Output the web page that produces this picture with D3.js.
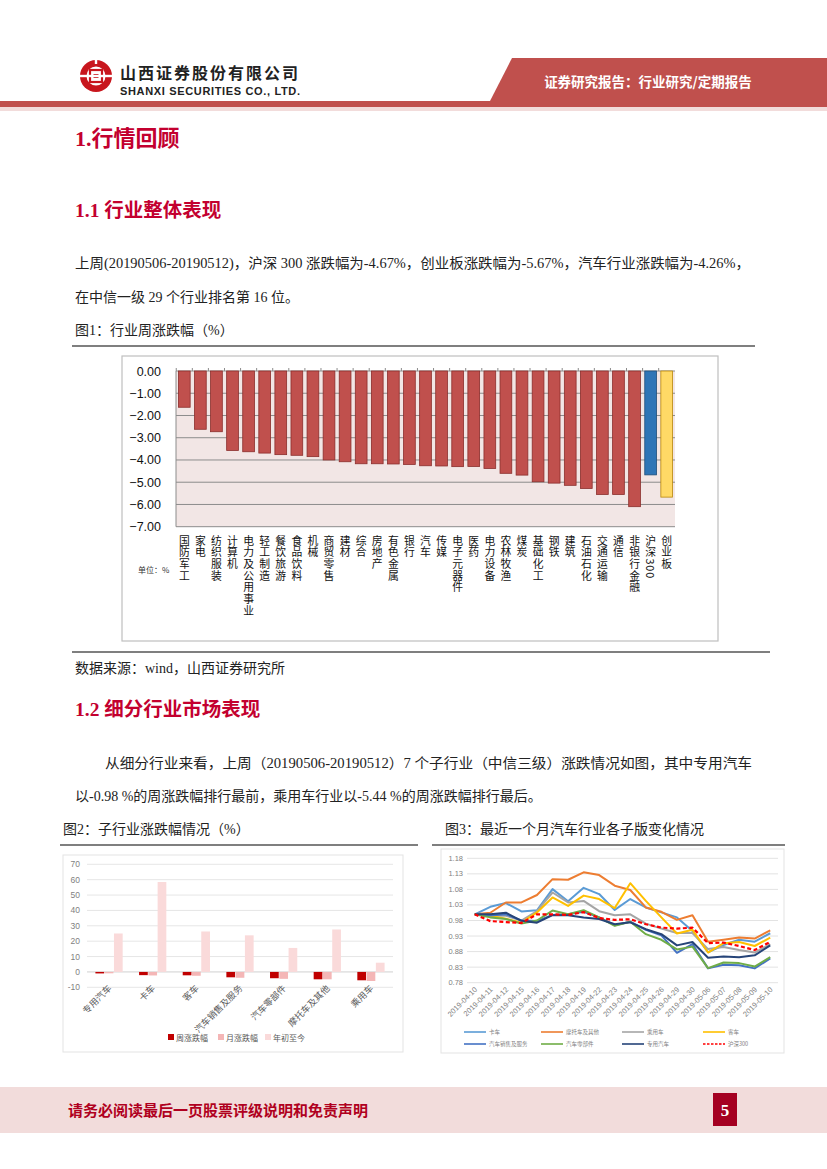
<!DOCTYPE html>
<html>
<head>
<meta charset="utf-8">
<script src="https://cdn.jsdelivr.net/npm/d3@7"></script>
<style>
  body { margin: 0; background: #fff; }
  svg { display: block; }
</style>
</head>
<body>
<svg id="page"></svg>
<script>
// ---- data ----
// figure 1: weekly change by industry
let industries = ['国防军工', '家电', '纺织服装', '计算机', '电力及公用事业', '轻工制造', '餐饮旅游', '食品饮料', '机械', '商贸零售',
  '建材', '综合', '房地产', '有色金属', '银行', '汽车', '传媒', '电子元器件', '医药', '电力设备',
  '农林牧渔', '煤炭', '基础化工', '钢铁', '建筑', '石油石化', '交通运输', '通信', '非银行金融', '沪深300', '创业板'];
let weeklyChange = [-1.63, -2.62, -2.73, -3.57, -3.63, -3.69, -3.76, -3.79, -3.85, -4.00,
  -4.08, -4.17, -4.17, -4.18, -4.20, -4.26, -4.27, -4.30, -4.29, -4.38,
  -4.60, -4.68, -4.98, -5.04, -5.14, -5.28, -5.55, -5.55, -6.10, -4.67, -5.67];
let fig1Ticks = [0, -1, -2, -3, -4, -5, -6, -7];

// figure 2: sub-industries
let subIndustries = ['专用汽车', '卡车', '客车', '汽车销售及服务', '汽车零部件', '摩托车及其他', '乘用车'];
let subWeek = [-0.98, -2.1, -2.2, -3.5, -4.1, -4.8, -5.44];
let subMonth = [-0.9, -2.3, -2.5, -3.8, -4.5, -4.8, -5.9];
let subYtd = [25.0, 58.5, 26.3, 23.8, 15.6, 27.6, 6.0];
let fig2Series = ['周涨跌幅', '月涨跌幅', '年初至今'];
let fig2Ticks = [-10, 0, 10, 20, 30, 40, 50, 60, 70];

// figure 3: one month index
let dates = ['2019-04-10', '2019-04-11', '2019-04-12', '2019-04-15', '2019-04-16', '2019-04-17', '2019-04-18', '2019-04-19',
  '2019-04-22', '2019-04-23', '2019-04-24', '2019-04-25', '2019-04-26', '2019-04-29', '2019-04-30',
  '2019-05-06', '2019-05-07', '2019-05-08', '2019-05-09', '2019-05-10'];
let truck = [1.00, 1.024, 1.036, 1.009, 1.013, 1.081, 1.042, 1.085, 1.065, 1.014, 1.049, 1.022, 1.006, 0.99, 0.946, 0.878, 0.901, 0.918, 0.912, 0.939];
let moto = [1.00, 1.005, 1.038, 1.038, 1.062, 1.113, 1.111, 1.135, 1.126, 1.092, 1.078, 1.022, 1.008, 0.982, 0.997, 0.912, 0.918, 0.925, 0.922, 0.948];
let car = [1.00, 0.995, 0.995, 0.98, 1.01, 1.07, 1.038, 1.043, 1.01, 0.997, 1.0, 0.97, 0.954, 0.94, 0.94, 0.888, 0.895, 0.885, 0.877, 0.904];
let bus = [1.00, 0.995, 0.986, 0.973, 1.006, 1.054, 1.027, 1.06, 1.049, 1.02, 1.10, 1.043, 0.99, 0.938, 0.95, 0.877, 0.907, 0.911, 0.898, 0.925];
let sales = [1.00, 0.996, 1.0, 0.98, 0.978, 0.998, 1.0, 1.008, 0.99, 0.965, 0.976, 0.95, 0.932, 0.876, 0.904, 0.826, 0.838, 0.836, 0.826, 0.858];
let parts = [1.00, 0.99, 0.985, 0.97, 0.98, 1.012, 1.0, 1.013, 0.99, 0.963, 0.976, 0.936, 0.918, 0.887, 0.896, 0.827, 0.845, 0.843, 0.832, 0.862];
let special = [1.00, 1.0, 1.005, 0.979, 0.973, 0.997, 0.997, 0.99, 0.985, 0.968, 0.974, 0.952, 0.936, 0.90, 0.911, 0.86, 0.864, 0.862, 0.868, 0.90];
let hs300 = [1.00, 0.978, 0.975, 0.972, 1.0, 1.0, 0.998, 1.007, 0.988, 0.982, 0.984, 0.968, 0.957, 0.954, 0.957, 0.907, 0.909, 0.898, 0.885, 0.911];
let fig3Names = ['卡车', '摩托车及其他', '乘用车', '客车', '汽车销售及服务', '汽车零部件', '专用汽车', '沪深300'];
let fig3Values = [truck, moto, car, bus, sales, parts, special, hs300];
let fig3Ticks = [0.78, 0.83, 0.88, 0.93, 0.98, 1.03, 1.08, 1.13, 1.18];

// ---- page ----
let W = 827, H = 1169;
let svg = d3.select('#page').attr('width', W).attr('height', H);
let red = '#C3002F';
let serif = '"Liberation Serif", "Noto Sans CJK SC", serif';
let cjk = '"Noto Sans CJK SC", sans-serif';

svg.append('rect').attr('width', W).attr('height', H).attr('fill', '#fff');

// header
let head = svg.append('g');
head.append('polygon')
  .attr('points', [[512, 58], [827, 58], [827, 101], [490, 101]].map(p => p.join(',')).join(' '))
  .attr('fill', '#C0504D');
head.append('rect').attr('x', 0).attr('y', 101).attr('width', W).attr('height', 6).attr('fill', '#C0504D');
head.append('rect').attr('x', 0).attr('y', 107).attr('width', W).attr('height', 4).attr('fill', '#F2DCDB');
head.append('text').attr('x', 648).attr('y', 87).attr('text-anchor', 'middle')
  .attr('font-family', cjk).attr('font-weight', 'bold').attr('font-size', 13.5).attr('fill', '#fff')
  .text('证券研究报告：行业研究/定期报告');

// logo
let logo = head.append('g').attr('transform', 'translate(96,76)');
logo.append('circle').attr('r', 16).attr('fill', '#C8161D');
logo.append('circle').attr('r', 9.5).attr('fill', '#fff');
logo.append('rect').attr('x', -6).attr('y', -6).attr('width', 12).attr('height', 12).attr('fill', 'none').attr('stroke', '#C8161D').attr('stroke-width', 2.2);
logo.append('rect').attr('x', -2.5).attr('y', -2).attr('width', 5).attr('height', 4).attr('fill', '#C8161D');
logo.append('rect').attr('x', -18).attr('y', -1.2).attr('width', 36).attr('height', 2.4).attr('fill', '#fff');
logo.append('rect').attr('x', -1.2).attr('y', -18).attr('width', 2.4).attr('height', 6).attr('fill', '#fff');
head.append('text').attr('x', 120).attr('y', 79).attr('font-family', cjk).attr('font-weight', 'bold')
  .attr('font-size', 16).attr('letter-spacing', 2).attr('fill', '#222').text('山西证券股份有限公司');
head.append('text').attr('x', 120).attr('y', 95).attr('font-family', '"Liberation Sans", sans-serif').attr('font-weight', 'bold')
  .attr('font-size', 11).attr('fill', '#222').attr('textLength', 180).text('SHANXI SECURITIES CO., LTD.');

// headings and body text
let addText = (x, y, txt, size, color, bold, extra) => {
  let t = svg.append('text').attr('x', x).attr('y', y).attr('font-family', serif)
    .attr('font-size', size).attr('fill', color).text(txt);
  if (bold) t.attr('font-weight', 'bold');
  if (extra) t.attr('textLength', extra).attr('lengthAdjust', 'spacingAndGlyphs');
  return t;
};
addText(75, 146, '1.行情回顾', 22, red, true);
addText(75, 217, '1.1 行业整体表现', 19.5, red, true);
addText(75, 268, '上周(20190506-20190512)，沪深 300 涨跌幅为-4.67%，创业板涨跌幅为-5.67%，汽车行业涨跌幅为-4.26%，', 14, '#222', false, 675);
addText(75, 302, '在中信一级 29 个行业排名第 16 位。', 14, '#222', false);
addText(75, 335, '图1：行业周涨跌幅（%）', 14, '#222', false);
svg.append('line').attr('x1', 72).attr('x2', 755).attr('y1', 346).attr('y2', 346).attr('stroke', '#555').attr('stroke-width', 1.5);
svg.append('line').attr('x1', 72).attr('x2', 770).attr('y1', 652).attr('y2', 652).attr('stroke', '#555').attr('stroke-width', 1.5);
addText(75, 673, '数据来源：wind，山西证券研究所', 14, '#222', false);
addText(75, 716, '1.2 细分行业市场表现', 19.5, red, true);
addText(105, 768, '从细分行业来看，上周（20190506-20190512）7 个子行业（中信三级）涨跌情况如图，其中专用汽车', 14, '#222', false, 647);
addText(75, 801, '以-0.98 %的周涨跌幅排行最前，乘用车行业以-5.44 %的周涨跌幅排行最后。', 14, '#222', false);
addText(63, 834, '图2：子行业涨跌幅情况（%）', 14, '#222', false);
addText(445, 834, '图3：最近一个月汽车行业各子版变化情况', 14, '#222', false);
svg.append('line').attr('x1', 60).attr('x2', 418).attr('y1', 845).attr('y2', 845).attr('stroke', '#555').attr('stroke-width', 1.5);
svg.append('line').attr('x1', 432).attr('x2', 785).attr('y1', 845).attr('y2', 845).attr('stroke', '#555').attr('stroke-width', 1.5);

// footer
svg.append('rect').attr('x', 0).attr('y', 1087).attr('width', W).attr('height', 46).attr('fill', '#F2DCDB');
svg.append('text').attr('x', 68).attr('y', 1116).attr('font-family', serif).attr('font-weight', 'bold')
  .attr('font-size', 15).attr('fill', '#B00020').text('请务必阅读最后一页股票评级说明和免责声明');
svg.append('rect').attr('x', 713).attr('y', 1093).attr('width', 24).attr('height', 33).attr('fill', '#A50021');
svg.append('text').attr('x', 725).attr('y', 1116).attr('text-anchor', 'middle').attr('font-family', serif)
  .attr('font-weight', 'bold').attr('font-size', 17).attr('fill', '#fff').text('5');

// ---- figure 1 ----
let f1 = svg.append('g');
f1.append('rect').attr('x', 122).attr('y', 356).attr('width', 596).attr('height', 285)
  .attr('fill', '#fff').attr('stroke', '#BFBFBF').attr('stroke-width', 1.2);

let x1 = d3.scaleBand().domain(industries).range([176, 675]).paddingInner(0.27).paddingOuter(0.15);
let y1 = d3.scaleLinear().domain([-7, 0]).range([526.7, 371]);

f1.append('rect').attr('x', 176).attr('y', y1(0)).attr('width', 499).attr('height', y1(-7) - y1(0)).attr('fill', '#F2E6E5');
f1.selectAll('line.grid').data(fig1Ticks).enter().append('line')
  .attr('x1', 176).attr('x2', 675).attr('y1', d => y1(d)).attr('y2', d => y1(d))
  .attr('stroke', '#8C8C8C').attr('stroke-width', 1);
f1.append('line').attr('x1', 176).attr('x2', 176).attr('y1', y1(0)).attr('y2', y1(-7)).attr('stroke', '#8C8C8C');
f1.selectAll('line.tick').data(industries).enter().append('line')
  .attr('x1', d => x1(d) - x1.step() * x1.paddingInner() / 2).attr('x2', d => x1(d) - x1.step() * x1.paddingInner() / 2)
  .attr('y1', y1(0) - 3).attr('y2', y1(0)).attr('stroke', '#8C8C8C');
f1.selectAll('text.ytick').data(fig1Ticks).enter().append('text')
  .attr('x', 161).attr('y', d => y1(d) + 4.5).attr('text-anchor', 'end')
  .attr('font-family', '"Liberation Sans", sans-serif').attr('font-size', 12.5).attr('fill', '#111')
  .text(d => d3.format('.2f')(d));

let barFill = d => d === '沪深300' ? '#2E75B6' : d === '创业板' ? '#FFD966' : '#C0504D';
let barStroke = d => d === '沪深300' ? '#1F4E79' : d === '创业板' ? '#B8860B' : '#8B2E2C';
f1.selectAll('rect.bar').data(industries).enter().append('rect')
  .attr('x', d => x1(d)).attr('width', x1.bandwidth())
  .attr('y', y1(0)).attr('height', (d, i) => y1(weeklyChange[i]) - y1(0))
  .attr('fill', barFill).attr('stroke', barStroke).attr('stroke-width', 0.8);

// vertical category labels (vertical writing mode; digits turn sideways)
f1.selectAll('text.cat').data(industries).enter().append('text')
  .attr('x', d => x1(d) + x1.bandwidth() / 2).attr('y', 535)
  .style('writing-mode', 'vertical-rl')
  .attr('font-family', cjk).attr('font-size', 10.8).attr('letter-spacing', 0.9).attr('fill', '#111')
  .text(d => d);
f1.append('text').attr('x', 138).attr('y', 573).attr('font-family', cjk).attr('font-size', 8).attr('fill', '#333').text('单位：%');

// ---- figure 2 ----
let f2 = svg.append('g');
f2.append('rect').attr('x', 63).attr('y', 855).attr('width', 340).attr('height', 197)
  .attr('fill', '#fff').attr('stroke', '#E3E3E3').attr('stroke-width', 1);
let x2 = d3.scaleBand().domain(subIndustries).range([87, 393]).paddingInner(0.35).paddingOuter(0.18);
let x2s = d3.scaleBand().domain(fig2Series).range([0, x2.bandwidth()]).padding(0.06);
let y2 = d3.scaleLinear().domain([-10, 70]).range([987.3, 864.3]);
f2.selectAll('line.grid').data(fig2Ticks).enter().append('line')
  .attr('x1', 87).attr('x2', 393).attr('y1', d => y2(d)).attr('y2', d => y2(d))
  .attr('stroke', d => d === 0 ? '#D0D0D0' : '#E6E6E6').attr('stroke-width', 1);
f2.selectAll('text.ytick').data(fig2Ticks).enter().append('text')
  .attr('x', 80).attr('y', d => y2(d) + 3).attr('text-anchor', 'end')
  .attr('font-family', '"Liberation Sans", sans-serif').attr('font-size', 8.5).attr('fill', '#7F7F7F').text(d => d);
let fig2Colors = ['#C00000', '#F4B6B6', '#FADADA'];
let fig2Data = [subWeek, subMonth, subYtd];
fig2Data.forEach((vals, s) => {
  f2.selectAll('rect.s' + s).data(subIndustries).enter().append('rect')
    .attr('x', d => x2(d) + x2s(fig2Series[s])).attr('width', x2s.bandwidth())
    .attr('y', (d, i) => y2(Math.max(0, vals[i])))
    .attr('height', (d, i) => Math.abs(y2(vals[i]) - y2(0)))
    .attr('fill', fig2Colors[s]);
});
f2.selectAll('text.cat').data(subIndustries).enter().append('text')
  .attr('transform', d => `translate(${x2(d) + x2.bandwidth() / 2 + 3},${989}) rotate(-45)`)
  .attr('text-anchor', 'end').attr('font-family', cjk).attr('font-size', 9).attr('fill', '#595959').text(d => d);
let leg2 = f2.append('g');
[168, 218, 265].forEach((lx, s) => {
  leg2.append('rect').attr('x', lx).attr('y', 1034).attr('width', 6).attr('height', 6).attr('fill', fig2Colors[s]);
  leg2.append('text').attr('x', lx + 8).attr('y', 1040.5).attr('font-family', cjk).attr('font-size', 8)
    .attr('fill', '#595959').text(fig2Series[s]);
});

// ---- figure 3 ----
let f3 = svg.append('g');
f3.append('rect').attr('x', 441).attr('y', 849).attr('width', 343).attr('height', 204)
  .attr('fill', '#fff').attr('stroke', '#E3E3E3').attr('stroke-width', 1);
let x3 = d3.scalePoint().domain(dates).range([467, 778]).padding(0.5);
let y3 = d3.scaleLinear().domain([0.78, 1.18]).range([982.7, 858.3]);
f3.selectAll('line.grid').data(fig3Ticks).enter().append('line')
  .attr('x1', 467).attr('x2', 778).attr('y1', d => y3(d)).attr('y2', d => y3(d))
  .attr('stroke', '#E3E3E3').attr('stroke-width', 1);
f3.selectAll('text.ytick').data(fig3Ticks).enter().append('text')
  .attr('x', 463).attr('y', d => y3(d) + 2.5).attr('text-anchor', 'end')
  .attr('font-family', '"Liberation Sans", sans-serif').attr('font-size', 7.5).attr('fill', '#7F7F7F')
  .text(d => d3.format('.2f')(d));
f3.selectAll('text.xtick').data(dates).enter().append('text')
  .attr('transform', d => `translate(${x3(d) + 3},${990}) rotate(-45)`)
  .attr('text-anchor', 'end').attr('font-family', '"Liberation Sans", sans-serif').attr('font-size', 7.5)
  .attr('fill', '#7F7F7F').text(d => d);
let fig3Colors = ['#5B9BD5', '#ED7D31', '#A5A5A5', '#FFC000', '#4472C4', '#70AD47', '#264478', '#FF0000'];
let line3 = d3.line().x((d, i) => x3(dates[i])).y(d => y3(d));
fig3Values.forEach((vals, s) => {
  let p = f3.append('path').datum(vals).attr('d', line3).attr('fill', 'none')
    .attr('stroke', fig3Colors[s]).attr('stroke-width', 2).attr('stroke-linejoin', 'round');
  if (s === 7) p.attr('stroke-dasharray', '4,2.5').attr('stroke-width', 2.2);
});
let leg3x = [464, 541, 622, 703];
fig3Names.forEach((n, s) => {
  let lx = leg3x[s % 4], ly = s < 4 ? 1032 : 1044;
  let l = f3.append('line').attr('x1', lx).attr('x2', lx + 22).attr('y1', ly).attr('y2', ly)
    .attr('stroke', fig3Colors[s]).attr('stroke-width', 1.6);
  if (s === 7) l.attr('stroke-dasharray', '2.5,1.5');
  f3.append('text').attr('x', lx + 25).attr('y', ly + 2.2).attr('font-family', cjk).attr('font-size', 5.5)
    .attr('fill', '#7F7F7F').text(n);
});
</script>
</body>
</html>
